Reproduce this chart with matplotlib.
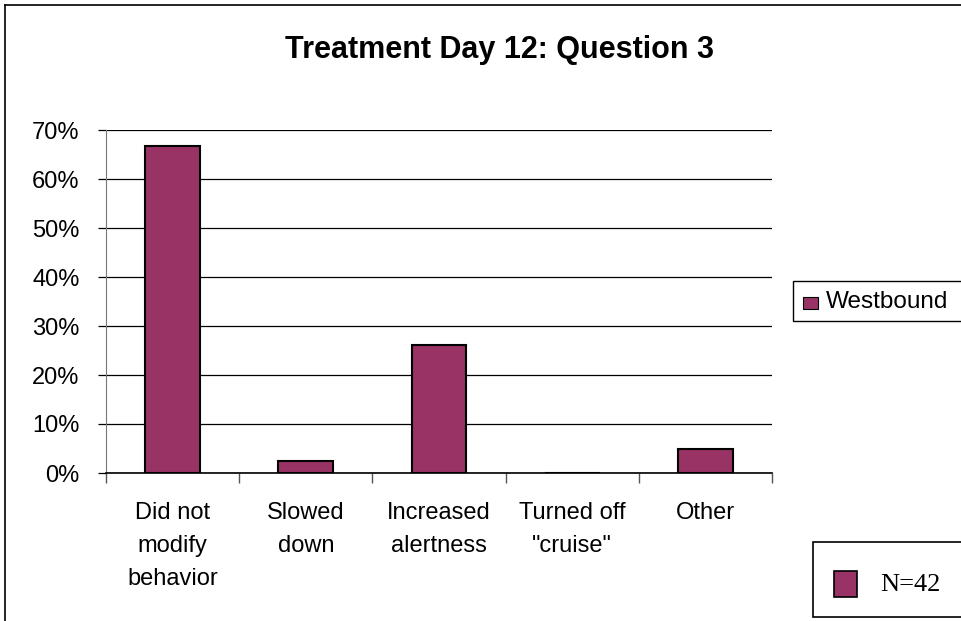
import matplotlib.pyplot as plt
from matplotlib.patches import Rectangle
from matplotlib.lines import Line2D
from matplotlib.ticker import PercentFormatter

categories = ['Did not\nmodify\nbehavior', 'Slowed\ndown', 'Increased\nalertness',
              'Turned off\n"cruise"', 'Other']
westbound = [66.7, 2.4, 26.2, 0.0, 4.8]
series_name = 'Westbound'
n_label = 'N=42'
title = 'Treatment Day 12: Question 3'

bar_color = '#993366'
W, H = 961, 621

plt.rcParams['font.family'] = ['Liberation Sans', 'DejaVu Sans']

fig = plt.figure(figsize=(W / 100, H / 100), dpi=100)
fig.patch.set_facecolor('white')

def fx(px):
    return px / W

def fy(py):
    return 1 - py / H

ax = fig.add_axes([fx(106), fy(473), fx(772) - fx(106), fy(130) - fy(473)])

x = list(range(len(categories)))
ax.bar(x, westbound, width=0.41, color=bar_color, edgecolor='black', linewidth=1.5, zorder=3)

ax.set_xlim(-0.5, len(categories) - 0.5)
ax.set_ylim(0, 70)
ax.set_yticks(range(0, 71, 10))
ax.yaxis.set_major_formatter(PercentFormatter(decimals=0))
ax.grid(axis='y', color='black', linewidth=0.9, zorder=0)
ax.tick_params(axis='y', length=6, width=0.9, color='black', labelsize=17, pad=13)

# ticks on category boundaries
ax.set_xticks([i - 0.5 for i in range(len(categories) + 1)], minor=False)
ax.set_xticklabels([])
ax.tick_params(axis='x', which='major', length=7, width=1, color='#555555', direction='out')
ax.set_xticks(x, minor=True)
ax.set_xticklabels(categories, minor=True, fontsize=17, linespacing=1.65)
ax.tick_params(axis='x', which='minor', length=0, pad=21)

for s in ['top', 'right']:
    ax.spines[s].set_visible(False)
ax.spines['left'].set_color('#777777')
ax.spines['bottom'].set_color('black')
ax.spines['bottom'].set_linewidth(1.2)

fig.text(fx(500), fy(50), title, ha='center', va='center', fontsize=22, fontweight='bold')

# outer chart border
fig.add_artist(Line2D([fx(5), fx(5)], [fy(5), 0], color='black', linewidth=1.2))
fig.add_artist(Line2D([fx(5), 1], [fy(5), fy(5)], color='black', linewidth=1.2))

# series legend box
fig.add_artist(Rectangle((fx(793), fy(321)), fx(975) - fx(793), fy(281) - fy(321),
                         facecolor='white', edgecolor='black', linewidth=1.0))
fig.add_artist(Rectangle((fx(803), fy(309)), fx(818) - fx(803), fy(297) - fy(309),
                         facecolor=bar_color, edgecolor='black', linewidth=0.8))
fig.text(fx(826), fy(302), series_name, ha='left', va='center', fontsize=17.5)

# N legend box
fig.add_artist(Rectangle((fx(813), fy(617)), fx(975) - fx(813), fy(542) - fy(617),
                         facecolor='white', edgecolor='black', linewidth=1.2))
fig.add_artist(Rectangle((fx(834), fy(597)), fx(857) - fx(834), fy(571) - fy(597),
                         facecolor=bar_color, edgecolor='black', linewidth=1.2))
fig.text(fx(880), fy(585), n_label, ha='left', va='center', fontsize=19,
         family=['Liberation Serif', 'DejaVu Serif'])

fig.savefig('out.png', dpi=100)
